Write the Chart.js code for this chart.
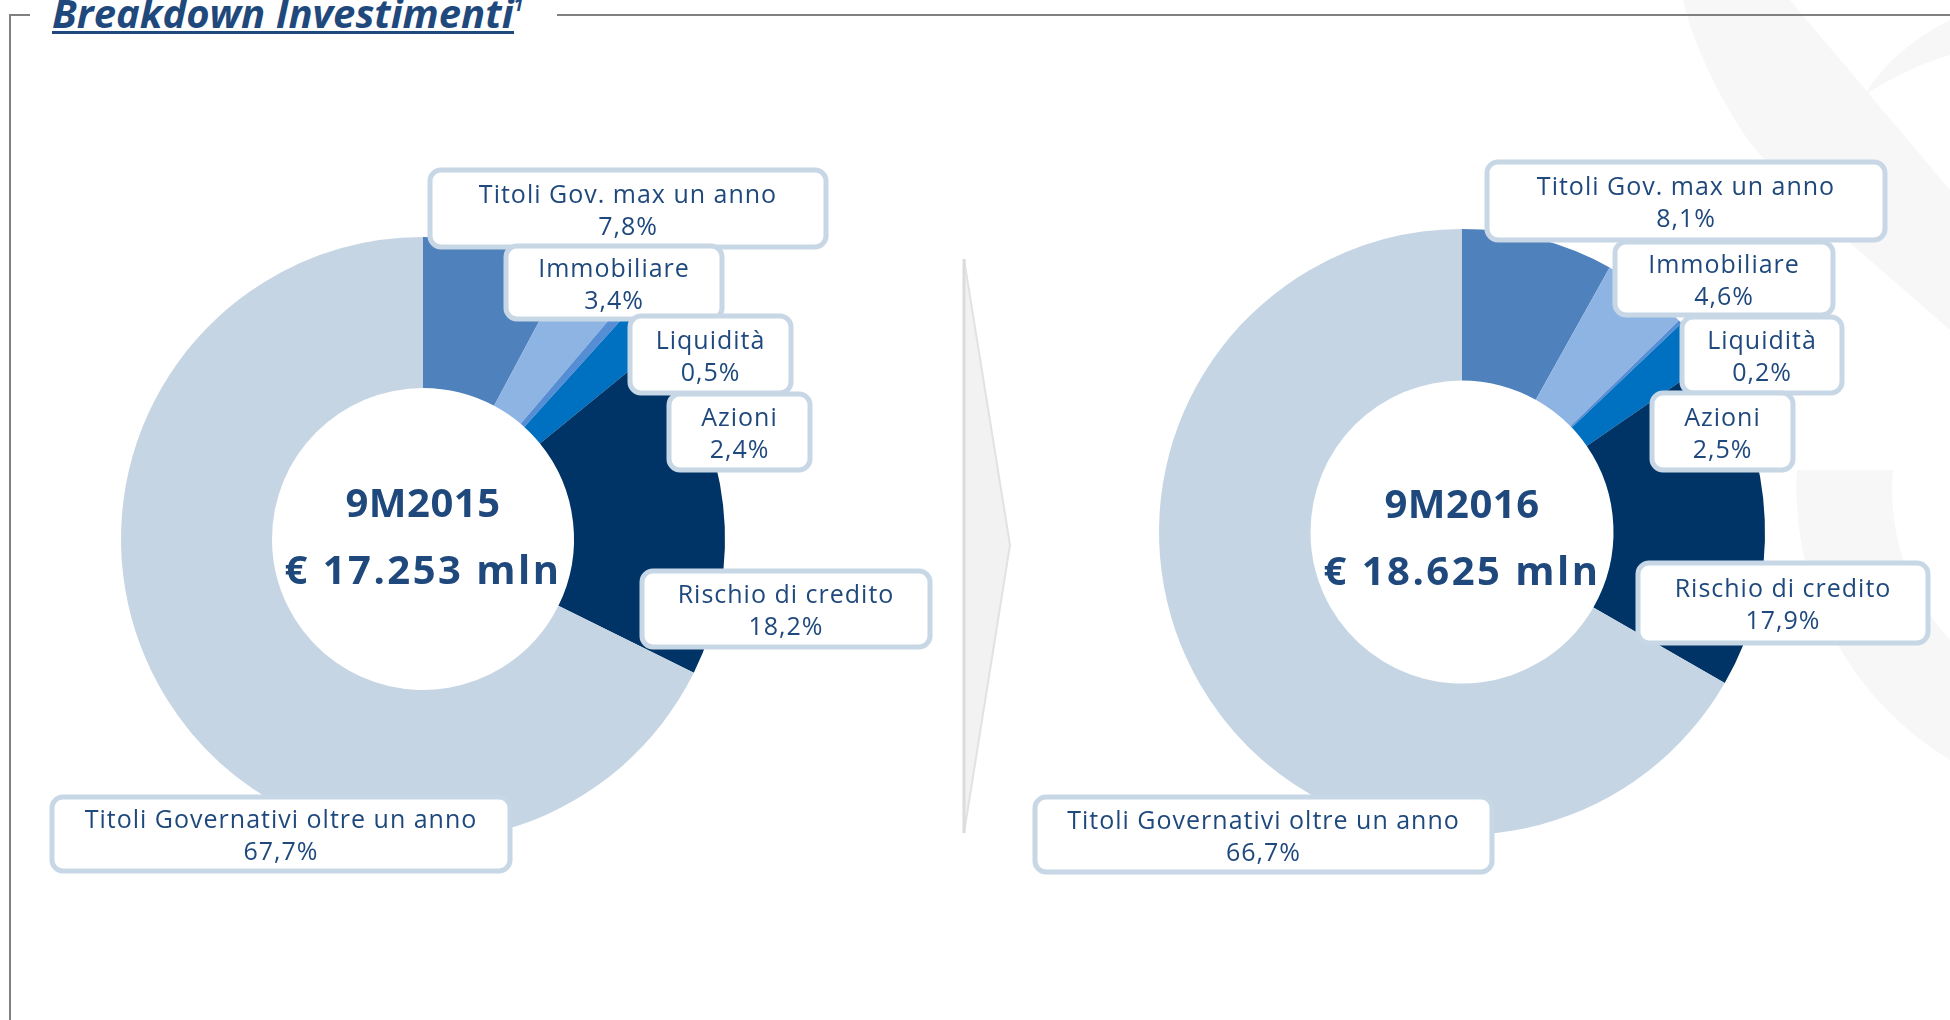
<!DOCTYPE html>
<html lang="it">
<head>
<meta charset="utf-8">
<title>Breakdown Investimenti</title>
<script src="https://cdn.jsdelivr.net/npm/chart.js@4.4.1/dist/chart.umd.min.js"></script>
<style>
  html, body { margin: 0; padding: 0; background: #fff; }
  body { width: 1950px; height: 1020px; position: relative; overflow: hidden; }
  #deco { position: absolute; left: 0; top: 0; }
  .chartBox { position: absolute; top: 0; width: 975px; height: 1020px; }
</style>
</head>
<body>

<svg id="deco" width="1950" height="1020" xmlns="http://www.w3.org/2000/svg">
  <!-- faint watermark on the right -->
  <path d="M1683,0 L1790,0 L1950,190 L1950,330 C1860,250 1770,180 1735,120 C1705,70 1690,30 1683,0 Z" fill="#F7F7F7"/>
  <path d="M1865,95 C1895,75 1925,62 1950,55 L1950,20 C1920,35 1885,60 1865,95 Z" fill="#F7F7F7"/>
  <path d="M1797,470 A318,318 0 0,0 1950,760 L1950,640 A223,223 0 0,1 1893,470 Z" fill="#F7F7F7"/>
  <!-- frame -->
  <line x1="10" y1="15" x2="10" y2="1020" stroke="#808080" stroke-width="2"/>
  <line x1="9" y1="15" x2="30" y2="15" stroke="#808080" stroke-width="2"/>
  <line x1="557" y1="15" x2="1950" y2="15" stroke="#808080" stroke-width="2"/>
  <!-- title -->
  <text x="52" y="28" fill="#1F497D" font-family="Open Sans" font-weight="bold" font-style="italic" font-size="40">Breakdown Investimenti<tspan font-size="18" dy="-17">1</tspan></text>
  <rect x="52" y="31" width="462" height="3" fill="#1F497D"/>
  <!-- arrow between the two years -->
  <polygon points="964,259 1010,545 964,833" fill="#F2F2F2" stroke="#E2E2E2" stroke-width="2"/>
  <line x1="964" y1="259" x2="964" y2="833" stroke="#DCDCDC" stroke-width="3"/>
</svg>

<div class="chartBox" style="left:0"><canvas id="chart2015" width="975" height="1020"></canvas></div>
<div class="chartBox" style="left:975px"><canvas id="chart2016" width="975" height="1020"></canvas></div>

<script>
const labels = ["Titoli Gov. max un anno", "Immobiliare", "Liquidità", "Azioni", "Rischio di credito", "Titoli Governativi oltre un anno"];
const values2015 = [7.8, 3.4, 0.5, 2.4, 18.2, 67.7];
const values2016 = [8.1, 4.6, 0.2, 2.5, 17.9, 66.7];
const periods = ["9M2015", "9M2016"];
const totals = ["€ 17.253 mln", "€ 18.625 mln"];

const sliceColors = ["#4F81BD", "#8EB4E3", "#558ED5", "#0070C0", "#003366", "#C5D5E4"];
const textColor = "#1F497D";

// callout boxes: offset of the box from the donut centre, then width and height
const boxes2015 = [[7, -369, 396, 77], [83, -293, 216, 73], [207, -223, 161, 77], [246, -145, 141, 76], [219, 32, 288, 76], [-371, 258, 458, 74]];
const boxes2016 = [[25, -370, 398, 78], [153, -290, 218, 73], [220, -215, 160, 76], [190, -139, 141, 77], [176, 31, 290, 80], [-427, 265, 457, 75]];

function fmtPct(v) {
    return v.toFixed(1).replace(".", ",") + "%";
}

// draws the centre text and the label boxes
const calloutPlugin = {
    id: "callouts",
    afterDatasetsDraw(chart, args, opts) {
        const ctx = chart.ctx;
        const arc = chart.getDatasetMeta(0).data[0];
        const cx = arc.x, cy = arc.y;
        const vals = chart.data.datasets[0].data;
        ctx.save();

        ctx.fillStyle = textColor;
        ctx.textAlign = "center";
        ctx.textBaseline = "alphabetic";
        ctx.font = 'bold 40px "Open Sans"';
        ctx.letterSpacing = "0.5px";
        ctx.fillText(opts.period, cx, cy + opts.textY[0]);
        ctx.letterSpacing = "2.5px";
        ctx.fillText(opts.total, cx, cy + opts.textY[1]);

        opts.boxes.forEach((b, i) => {
            const x = cx + b[0], y = cy + b[1], w = b[2], h = b[3];
            ctx.beginPath();
            ctx.roundRect(x, y, w, h, 11);
            ctx.fillStyle = "#fff";
            ctx.fill();
            ctx.lineWidth = 5;
            ctx.strokeStyle = "#C8D7E6";
            ctx.stroke();

            ctx.fillStyle = textColor;
            ctx.font = '25px "Open Sans"';
            ctx.letterSpacing = "1px";
            ctx.textBaseline = "middle";
            ctx.fillText(chart.data.labels[i], x + w / 2, y + h / 2 - 13);
            ctx.fillText(fmtPct(vals[i]), x + w / 2, y + h / 2 + 19);
        });
        ctx.restore();
    }
};

function makeDonut(id, values, period, total, boxes, padding, textY) {
    return new Chart(document.getElementById(id).getContext("2d"), {
        type: "doughnut",
        data: {
            labels,
            datasets: [{
                data: values,
                backgroundColor: sliceColors,
                borderWidth: 0
            }]
        },
        options: {
            responsive: false,
            animation: false,
            devicePixelRatio: 1,
            cutout: "50%",
            layout: { padding },
            plugins: {
                legend: { display: false },
                tooltip: { enabled: false },
                callouts: { period, total, boxes, textY }
            }
        },
        plugins: [calloutPlugin]
    });
}

makeDonut("chart2015", values2015, periods[0], totals[0], boxes2015,
    { left: 121, top: 237, right: 250, bottom: 179 }, [-22, 45]);
makeDonut("chart2016", values2016, periods[1], totals[1], boxes2016,
    { left: 184, top: 229, right: 185, bottom: 185 }, [-14, 53]);
</script>
</body>
</html>
